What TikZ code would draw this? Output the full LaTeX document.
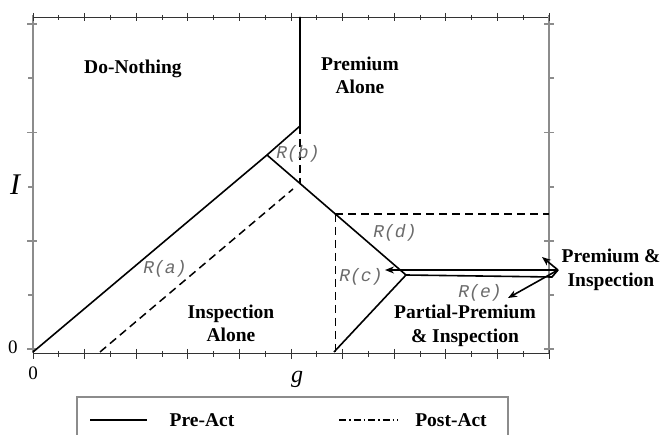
\documentclass[tikz,border=0pt]{standalone}
\usepackage{fontspec}
\setmainfont{Liberation Serif}
\newfontfamily\rmono{Liberation Mono}
\usetikzlibrary{arrows.meta}
\begin{document}
\begin{tikzpicture}[x=1pt,y=-1pt,
  pre/.style={line width=1.6pt, black},
  post/.style={line width=1.5pt, black, dash pattern=on 8pt off 5pt},
  region/.style={font=\fontsize{19.5}{23.5}\selectfont\bfseries, align=center, inner sep=0pt},
  rlab/.style={font=\rmono\itshape\fontsize{18}{20}\selectfont, text=black!58, inner sep=0pt},
  arr/.style={line width=1.6pt, -{Stealth[length=9pt,width=7pt]}},
  axisgray/.style={draw=black!45, line width=1.3pt},
  axisdark/.style={draw=black!80, line width=0.9pt},
  legtext/.style={font=\fontsize{19.5}{22}\selectfont\bfseries, inner sep=0pt},
  numlab/.style={inner sep=0pt, font=\fontsize{19}{21}\selectfont},
]
\useasboundingbox (0,0) rectangle (662,435);

% axes
\draw[axisdark] (33,17) -- (549,17);
\draw[axisdark] (33,353) -- (549,353);
\draw[axisgray] (33,15) -- (33,353);
\draw[axisgray] (549,15) -- (549,353);
\foreach \k in {0,...,10}{
  \draw[axisdark] ({33+51.6*\k},13) -- ({33+51.6*\k},21);
  \draw[axisdark] ({33+51.6*\k},349) -- ({33+51.6*\k},359);
}
\foreach \k in {0,...,9}{
  \draw[axisdark] ({58.8+51.6*\k},15) -- ({58.8+51.6*\k},20);
  \draw[axisdark] ({58.8+51.6*\k},351) -- ({58.8+51.6*\k},357);
}
\foreach \y in {24,132.5,241,349}{
  \draw[axisgray] (27,\y) -- (37,\y);
  \draw[axisgray] (544,\y) -- (554,\y);
}
\foreach \y in {78,187,295}{
  \draw[axisgray] (28,\y) -- (33,\y);
  \draw[axisgray] (549,\y) -- (554,\y);
}

% axis labels
\node[inner sep=0pt, font=\fontsize{30}{32}\selectfont\itshape] (Ilab) at (15,185) {I};
\node[inner sep=0pt, font=\fontsize{24}{26}\selectfont\itshape] (glab) at (297,379) {g};
\node[numlab] (zy) at (13,347) {0};
\node[numlab] (zx) at (33,373) {0};

% region labels
\node[region] (dn) at (133,69) {Do-Nothing};
\node[region] (pa) at (360,75.5) {Premium\\Alone};
\node[region] (ia) at (231,323.5) {Inspection\\Alone};
\node[region] (ppi) at (465,326) {Partial-Premium\\\& Inspection};
\node[region] (pin) at (611,270) {Premium \&\\Inspection};

% key points
\coordinate (O) at (33,352);
\coordinate (B) at (267,155);
\coordinate (K) at (300,126);
\coordinate (T) at (300,17);
\coordinate (J) at (406,275);
\coordinate (F) at (334,352);
\coordinate (P) at (558,270);
\coordinate (Q) at (552,277);
\coordinate (Rc) at (385,270);
\coordinate (Up) at (542,257);
\coordinate (Dn) at (508,298);
\coordinate (A1) at (100,352);
\coordinate (A2) at (293,189);
\coordinate (K2) at (300,183.5);
\coordinate (D) at (335.4,214);
\coordinate (D2) at (549,214);
\coordinate (D3) at (335.4,352);

% pre-act boundaries
\draw[pre] (O) -- (B) -- (K) -- (T);
\draw[pre] (B) -- (J) -- (F);
\draw[pre] (J) -- (Q) -- (P);
\draw[arr] (P) -- (Rc);
\draw[arr] (P) -- (Up);
\draw[arr] (P) -- (Dn);

% post-act boundaries
\draw[post] (A1) -- (A2);
\draw[post] (K) -- (K2);
\draw[post] (D) -- (D2);
\draw[post] (D) -- (D3);

% R labels
\node[rlab] (ra) at (165,269) {R(a)};
\node[rlab] (rb) at (298,154) {R(b)};
\node[rlab] (rd) at (395,233) {R(d)};
\node[rlab] (rc) at (361,277) {R(c)};
\node[rlab] (re) at (480,293) {R(e)};

% legend
\draw[draw=black!45, line width=1.3pt] (77,440) -- (77,397) -- (508,397) -- (508,440);
\coordinate (L1) at (90,420);
\coordinate (L2) at (147,420);
\coordinate (L3) at (339,420);
\coordinate (L4) at (398,420);
\draw[line width=1.5pt] (L1) -- (L2);
\node[legtext] (lpre) at (202,420) {Pre-Act};
\draw[line width=1.1pt, dash pattern=on 7pt off 3pt on 1.5pt off 3pt] (L3) -- (L4);
\node[legtext] (lpost) at (451,420) {Post-Act};
\end{tikzpicture}
\end{document}
